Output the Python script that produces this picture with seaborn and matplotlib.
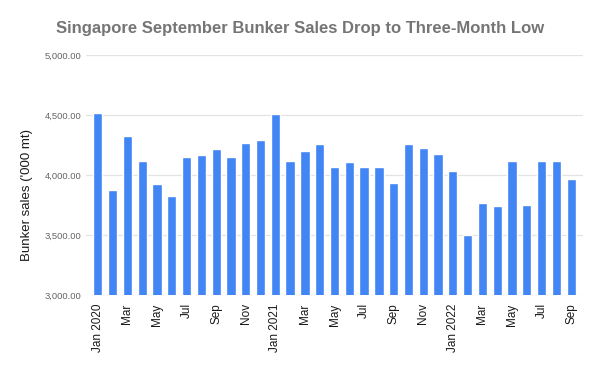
import matplotlib
matplotlib.use("Agg")
import matplotlib.pyplot as plt
import seaborn as sns
import pandas as pd

months = ["Jan 2020", "Feb", "Mar", "Apr", "May", "Jun", "Jul", "Aug", "Sep", "Oct", "Nov", "Dec",
          "Jan 2021", "Feb", "Mar", "Apr", "May", "Jun", "Jul", "Aug", "Sep", "Oct", "Nov", "Dec",
          "Jan 2022", "Feb", "Mar", "Apr", "May", "Jun", "Jul", "Aug", "Sep"]
sales = [4520, 3875, 4325, 4114, 3922, 3825, 4153, 4167, 4217, 4147, 4264, 4289,
         4506, 4119, 4200, 4258, 4069, 4108, 4064, 4069, 3933, 4256, 4222, 4178,
         4031, 3497, 3767, 3739, 4114, 3750, 4119, 4117, 3967]
y_ticks = [3000, 3500, 4000, 4500, 5000]

title = "Singapore September Bunker Sales Drop to Three-Month Low"
ylabel = "Bunker sales ('000 mt)"

sns.set_theme(style="white")
plt.rcParams["font.family"] = ["Liberation Sans", "DejaVu Sans"]

df = pd.DataFrame({"idx": list(range(len(months))), "sales": sales})

fig = plt.figure(figsize=(6, 3.71), dpi=100)
ax = fig.add_axes([86 / 600, 1 - 295 / 371, (583 - 86) / 600, (295 - 55) / 371])

sns.barplot(data=df, x="idx", y="sales", color="#4285F4", saturation=1, width=0.63, ax=ax, zorder=3)

ax.set_ylim(3000, 5000)
ax.set_xlim(-0.8, len(months) - 0.2)
ax.set_yticks(y_ticks)
ax.set_yticklabels([f"{v:,.2f}" for v in y_ticks], fontsize=6.8, color="#666666")
ax.yaxis.grid(True, color="#e3e3e3", lw=0.9, zorder=0)
ax.xaxis.grid(False)

pos = list(range(0, len(months), 2))
ax.set_xticks(pos)
ax.set_xticklabels([months[i] for i in pos], rotation=90, fontsize=8.5, color="#1a1a1a", fontweight="medium")
ax.tick_params(axis="x", length=0, pad=6)
ax.tick_params(axis="y", length=0, pad=3)
ax.set_xlabel("")
ax.set_ylabel("")
for s in ax.spines.values():
    s.set_visible(False)

fig.text(0.045, 1 - 195 / 371, ylabel, rotation=90, ha="center", va="center", fontsize=9.5, color="#1a1a1a")
fig.text(0.5, 1 - 28 / 371, title, ha="center", va="center", fontsize=12, fontweight="bold", color="#757575")

fig.savefig("out.png", dpi=100, facecolor="white")
